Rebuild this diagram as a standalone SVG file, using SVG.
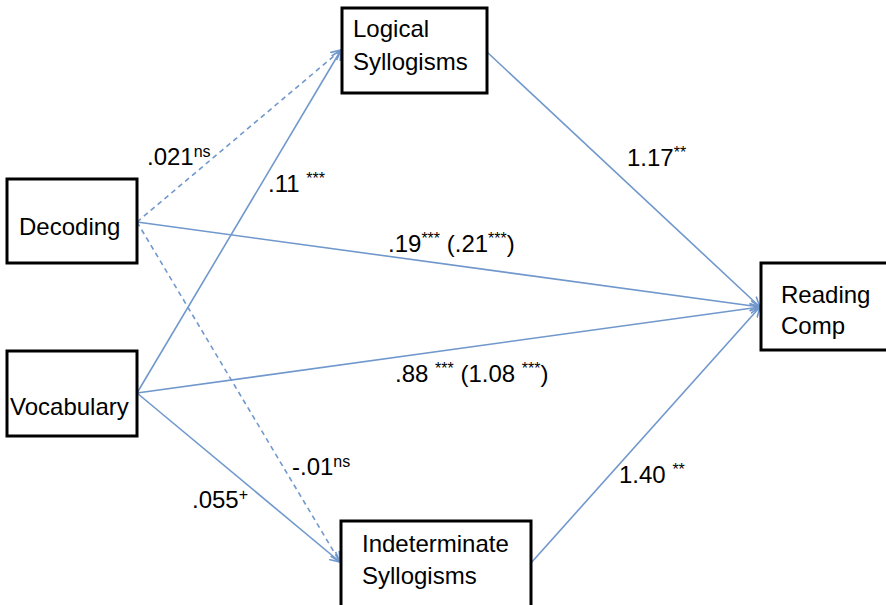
<svg xmlns="http://www.w3.org/2000/svg" width="886" height="605" viewBox="0 0 886 605">
<style>
.box{fill:#fff;stroke:#000;stroke-width:3}
.t{font-family:"Liberation Sans",Arial,sans-serif;font-size:24px;fill:#000}
.l{font-family:"Liberation Sans",Arial,sans-serif;font-size:24px;fill:#000}
.s{font-size:16px}
.c{stroke:#7098cc;stroke-width:1.6;fill:none;marker-end:url(#ah)}
.d{stroke-dasharray:5,4}
</style>
<defs>
<marker id="ah" markerWidth="12" markerHeight="12" refX="10" refY="5" orient="auto" markerUnits="userSpaceOnUse" viewBox="0 0 12 10">
<path d="M0,0 L10,5 L0,10" fill="none" stroke="#7098cc" stroke-width="1.6"/>
</marker>
</defs>
<rect width="886" height="605" fill="#fff"/>
<g id="connectors">
<line class="c d" x1="137" y1="222" x2="341" y2="50"/>
<line class="c d" x1="137" y1="222" x2="340" y2="562"/>
<line class="c" x1="137" y1="222" x2="760" y2="307"/>
<line class="c" x1="137" y1="393" x2="341" y2="50"/>
<line class="c" x1="137" y1="393" x2="760" y2="307"/>
<line class="c" x1="137" y1="393" x2="340" y2="562"/>
<line class="c" x1="487" y1="52" x2="760" y2="307"/>
<line class="c" x1="531" y1="563" x2="760" y2="307"/>
</g>
<g id="decoding">
<rect class="box" x="7" y="179" width="130" height="84"/>
<text class="t" x="19" y="235">Decoding</text>
</g>
<g id="vocabulary">
<rect class="box" x="7" y="351" width="130" height="85"/>
<text class="t" x="10" y="415">Vocabulary</text>
</g>
<g id="logical">
<rect class="box" x="342" y="8" width="145" height="85"/>
<text class="t" x="353" y="37">Logical</text>
<text class="t" x="353" y="70">Syllogisms</text>
</g>
<g id="indeterminate">
<rect class="box" x="341" y="521" width="190" height="90"/>
<text class="t" x="362" y="552">Indeterminate</text>
<text class="t" x="362" y="584">Syllogisms</text>
</g>
<g id="reading">
<rect class="box" x="761" y="263" width="128" height="87"/>
<text class="t" x="781" y="303">Reading</text>
<text class="t" x="781" y="334">Comp</text>
</g>
<g id="labels">
<text class="l" x="147" y="165">.021<tspan class="s" dy="-8">ns</tspan></text>
<text class="l" x="268" y="192">.11 <tspan class="s" dy="-8">***</tspan></text>
<text class="l" x="388" y="252">.19<tspan class="s" dy="-8">***</tspan><tspan dy="8"> (.21</tspan><tspan class="s" dy="-8">***</tspan><tspan dy="8">)</tspan></text>
<text class="l" x="395" y="382">.88 <tspan class="s" dy="-8">***</tspan><tspan dy="8"> (1.08 </tspan><tspan class="s" dy="-8">***</tspan><tspan dy="8">)</tspan></text>
<text class="l" x="627" y="166">1.17<tspan class="s" dy="-8">**</tspan></text>
<text class="l" x="619" y="483">1.40 <tspan class="s" dy="-8">**</tspan></text>
<text class="l" x="292" y="475">-.01<tspan class="s" dy="-8">ns</tspan></text>
<text class="l" x="192" y="508">.055<tspan class="s" dy="-8">+</tspan></text>
</g>
</svg>
